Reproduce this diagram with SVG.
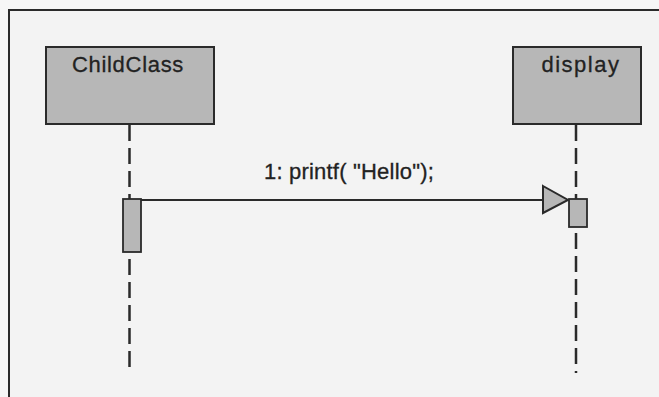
<svg xmlns="http://www.w3.org/2000/svg" width="659" height="397" viewBox="0 0 659 397">
  <style>
    .box { fill: #b7b7b7; stroke: #2a2a2a; stroke-width: 2; }
    .act { fill: #b7b7b7; stroke: #2a2a2a; stroke-width: 1.8; }
    .life { stroke: #2a2a2a; stroke-width: 2.5; stroke-dasharray: 16 7; fill: none; }
    .lbl { font-family: "Liberation Sans", Arial, sans-serif; font-size: 22px; fill: #222; stroke: #222; stroke-width: 0.3; text-anchor: middle; }
    .msg { stroke: #2a2a2a; stroke-width: 2; fill: none; }
  </style>
  <rect x="0" y="0" width="659" height="397" fill="#f6f6f6"/>
  <rect x="9" y="10" width="700" height="500" fill="#f3f3f3" stroke="#2a2a2a" stroke-width="2"/>

  <g id="connectors">
    <line class="life" x1="129.5" y1="125" x2="129.5" y2="199"/>
    <line class="life" x1="129.5" y1="259" x2="129.5" y2="373"/>
    <line class="life" x1="576" y1="125" x2="576" y2="199"/>
    <line class="life" x1="576" y1="233" x2="576" y2="373"/>
    <g id="msg1">
      <line class="msg" x1="141" y1="200" x2="543" y2="200"/>
      <polygon points="543,186 568,200 543,213" fill="#b7b7b7" stroke="#2a2a2a" stroke-width="2"/>
      <text class="lbl" x="349" y="179" letter-spacing="0.2">1: printf( "Hello");</text>
    </g>
  </g>

  <g id="ChildClass">
    <rect class="box" x="46" y="47" width="168" height="77"/>
    <text class="lbl" x="128" y="72" letter-spacing="0.7">ChildClass</text>
    <rect class="act" x="123" y="199" width="18" height="53"/>
  </g>

  <g id="display">
    <rect class="box" x="513" y="47" width="128" height="77"/>
    <text class="lbl" x="581" y="72" letter-spacing="1.5">display</text>
    <rect class="act" x="569" y="199" width="18" height="28"/>
  </g>
</svg>
